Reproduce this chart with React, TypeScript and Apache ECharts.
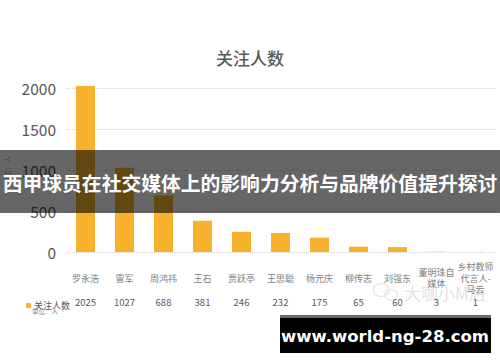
import React, { useEffect, useRef } from "react";
import * as echarts from "echarts";

const chartTitle = "关注人数";
const categories = [
  "罗永浩",
  "雷军",
  "周鸿祎",
  "王石",
  "贾跃亭",
  "王思聪",
  "杨元庆",
  "柳传志",
  "刘强东",
  "董明珠自媒体",
  "乡村教师代言人-马云",
];
const followers = [2025, 1027, 688, 381, 246, 232, 175, 65, 60, 3, 1];
const yTicks = { min: 0, max: 2000, interval: 500 };
const seriesName = "关注人数";
const unitText = "单位：人";
const bannerTitle = "西甲球员在社交媒体上的影响力分析与品牌价值提升探讨";
const siteText = "www.world-ng-28.com";
const watermarkText = "大咖小M后";

function wrap4(s: string): string {
  const parts: string[] = [];
  for (let i = 0; i < s.length; i += 4) parts.push(s.slice(i, i + 4));
  return parts.join("\n");
}

export default function App() {
  const ref = useRef<HTMLDivElement>(null);
  useEffect(() => {
    if (!ref.current) return;
    const chart = echarts.init(ref.current, null, { renderer: "svg" });
    const font = "Noto Sans CJK SC";
    chart.setOption({
      animation: false,
      backgroundColor: "#ffffff",
      textStyle: { fontFamily: font },
      title: {
        text: chartTitle,
        left: "center",
        top: 44,
        textStyle: { fontSize: 17, fontWeight: 500, color: "#595959", fontFamily: font },
      },
      legend: {
        data: [seriesName],
        left: 21,
        top: 296,
        icon: "rect",
        itemWidth: 5,
        itemHeight: 5,
        itemGap: 4,
        textStyle: { fontSize: 9, color: "#595959", fontFamily: font, padding: [0, 0, 0, -2] },
      },
      grid: {
        left: 66,
        right: 5,
        top: 88,
        bottom: 110,
        containLabel: false,
        outerBoundsMode: "none",
      },
      xAxis: [
        {
          type: "category",
          data: categories,
          axisLine: { show: false },
          axisTick: { show: false },
          axisLabel: {
            interval: 0,
            margin: 26,
            verticalAlign: "middle",
            fontSize: 9,
            lineHeight: 11.5,
            color: "#808080",
            fontFamily: font,
            formatter: (v: string) => wrap4(v),
          },
        },
        {
          type: "category",
          position: "bottom",
          data: followers.map((v) => String(v)),
          axisLine: { show: false },
          axisTick: { show: false },
          axisLabel: {
            interval: 0,
            margin: 50,
            verticalAlign: "middle",
            fontSize: 9.5,
            color: "#595959",
            fontFamily: font,
          },
        },
      ],
      yAxis: {
        type: "value",
        min: yTicks.min,
        max: yTicks.max,
        interval: yTicks.interval,
        name: unitText,
        nameLocation: "middle",
        nameGap: 56,
        nameRotate: 90,
        nameTextStyle: { fontSize: 7, color: "#a0a0a0", fontFamily: font },
        axisLine: { show: false },
        axisTick: { show: false },
        axisLabel: {
          fontSize: 15.5,
          color: "#595959",
          margin: 10,
          fontFamily: font,
          formatter: (v: number) => String(v),
        },
        splitLine: { lineStyle: { type: "dotted", color: "#d4d4d4", width: 1 } },
      },
      series: [
        {
          name: seriesName,
          type: "bar",
          xAxisIndex: 0,
          data: followers,
          barWidth: 19,
          clip: false,
          itemStyle: { color: "#F8B12C" },
        },
      ],
      graphic: [
        {
          type: "text",
          left: 32,
          top: 308,
          z: 50,
          style: { text: unitText, fontSize: 6.5, fill: "#8c8c8c", fontFamily: font },
        },
        {
          type: "group",
          z: 40,
          children: [
            {
              type: "ellipse",
              shape: { cx: 381, cy: 290, rx: 8, ry: 6.5 },
              style: { fill: "none", stroke: "#e2e2e2", lineWidth: 1.2 },
            },
            {
              type: "ellipse",
              shape: { cx: 391, cy: 295, rx: 6.5, ry: 5.5 },
              style: { fill: "none", stroke: "#e2e2e2", lineWidth: 1.2 },
            },
            {
              type: "text",
              x: 404,
              y: 292,
              style: {
                text: watermarkText,
                fontSize: 17,
                fill: "rgba(200,200,200,0.55)",
                fontFamily: font,
                verticalAlign: "middle",
              },
            },
          ],
        },
        {
          type: "rect",
          z: 100,
          shape: { x: 0, y: 150, width: 500, height: 63 },
          style: { fill: "rgba(0,0,0,0.6)" },
        },
        {
          type: "text",
          z: 101,
          x: 250,
          y: 182,
          style: {
            text: bannerTitle,
            fontSize: 19.8,
            fontWeight: "bold",
            fill: "#ffffff",
            align: "center",
            verticalAlign: "middle",
            fontFamily: font,
          },
        },
        {
          type: "rect",
          z: 100,
          shape: { x: 280, y: 315, width: 211, height: 38 },
          style: { fill: "#000000" },
        },
        {
          type: "rect",
          z: 101,
          shape: { x: 280, y: 315, width: 211, height: 3 },
          style: { fill: "#6a6a6a" },
        },
        {
          type: "text",
          z: 102,
          x: 385,
          y: 336,
          style: {
            text: siteText,
            fontSize: 16.5,
            fontWeight: "bold",
            fill: "#ffffff",
            align: "center",
            verticalAlign: "middle",
            fontFamily: "DejaVu Sans",
          },
        },
      ],
    });
    return () => chart.dispose();
  }, []);
  return (
    <div
      ref={ref}
      style={{ position: "fixed", left: 0, top: 0, width: 500, height: 362 }}
    />
  );
}
